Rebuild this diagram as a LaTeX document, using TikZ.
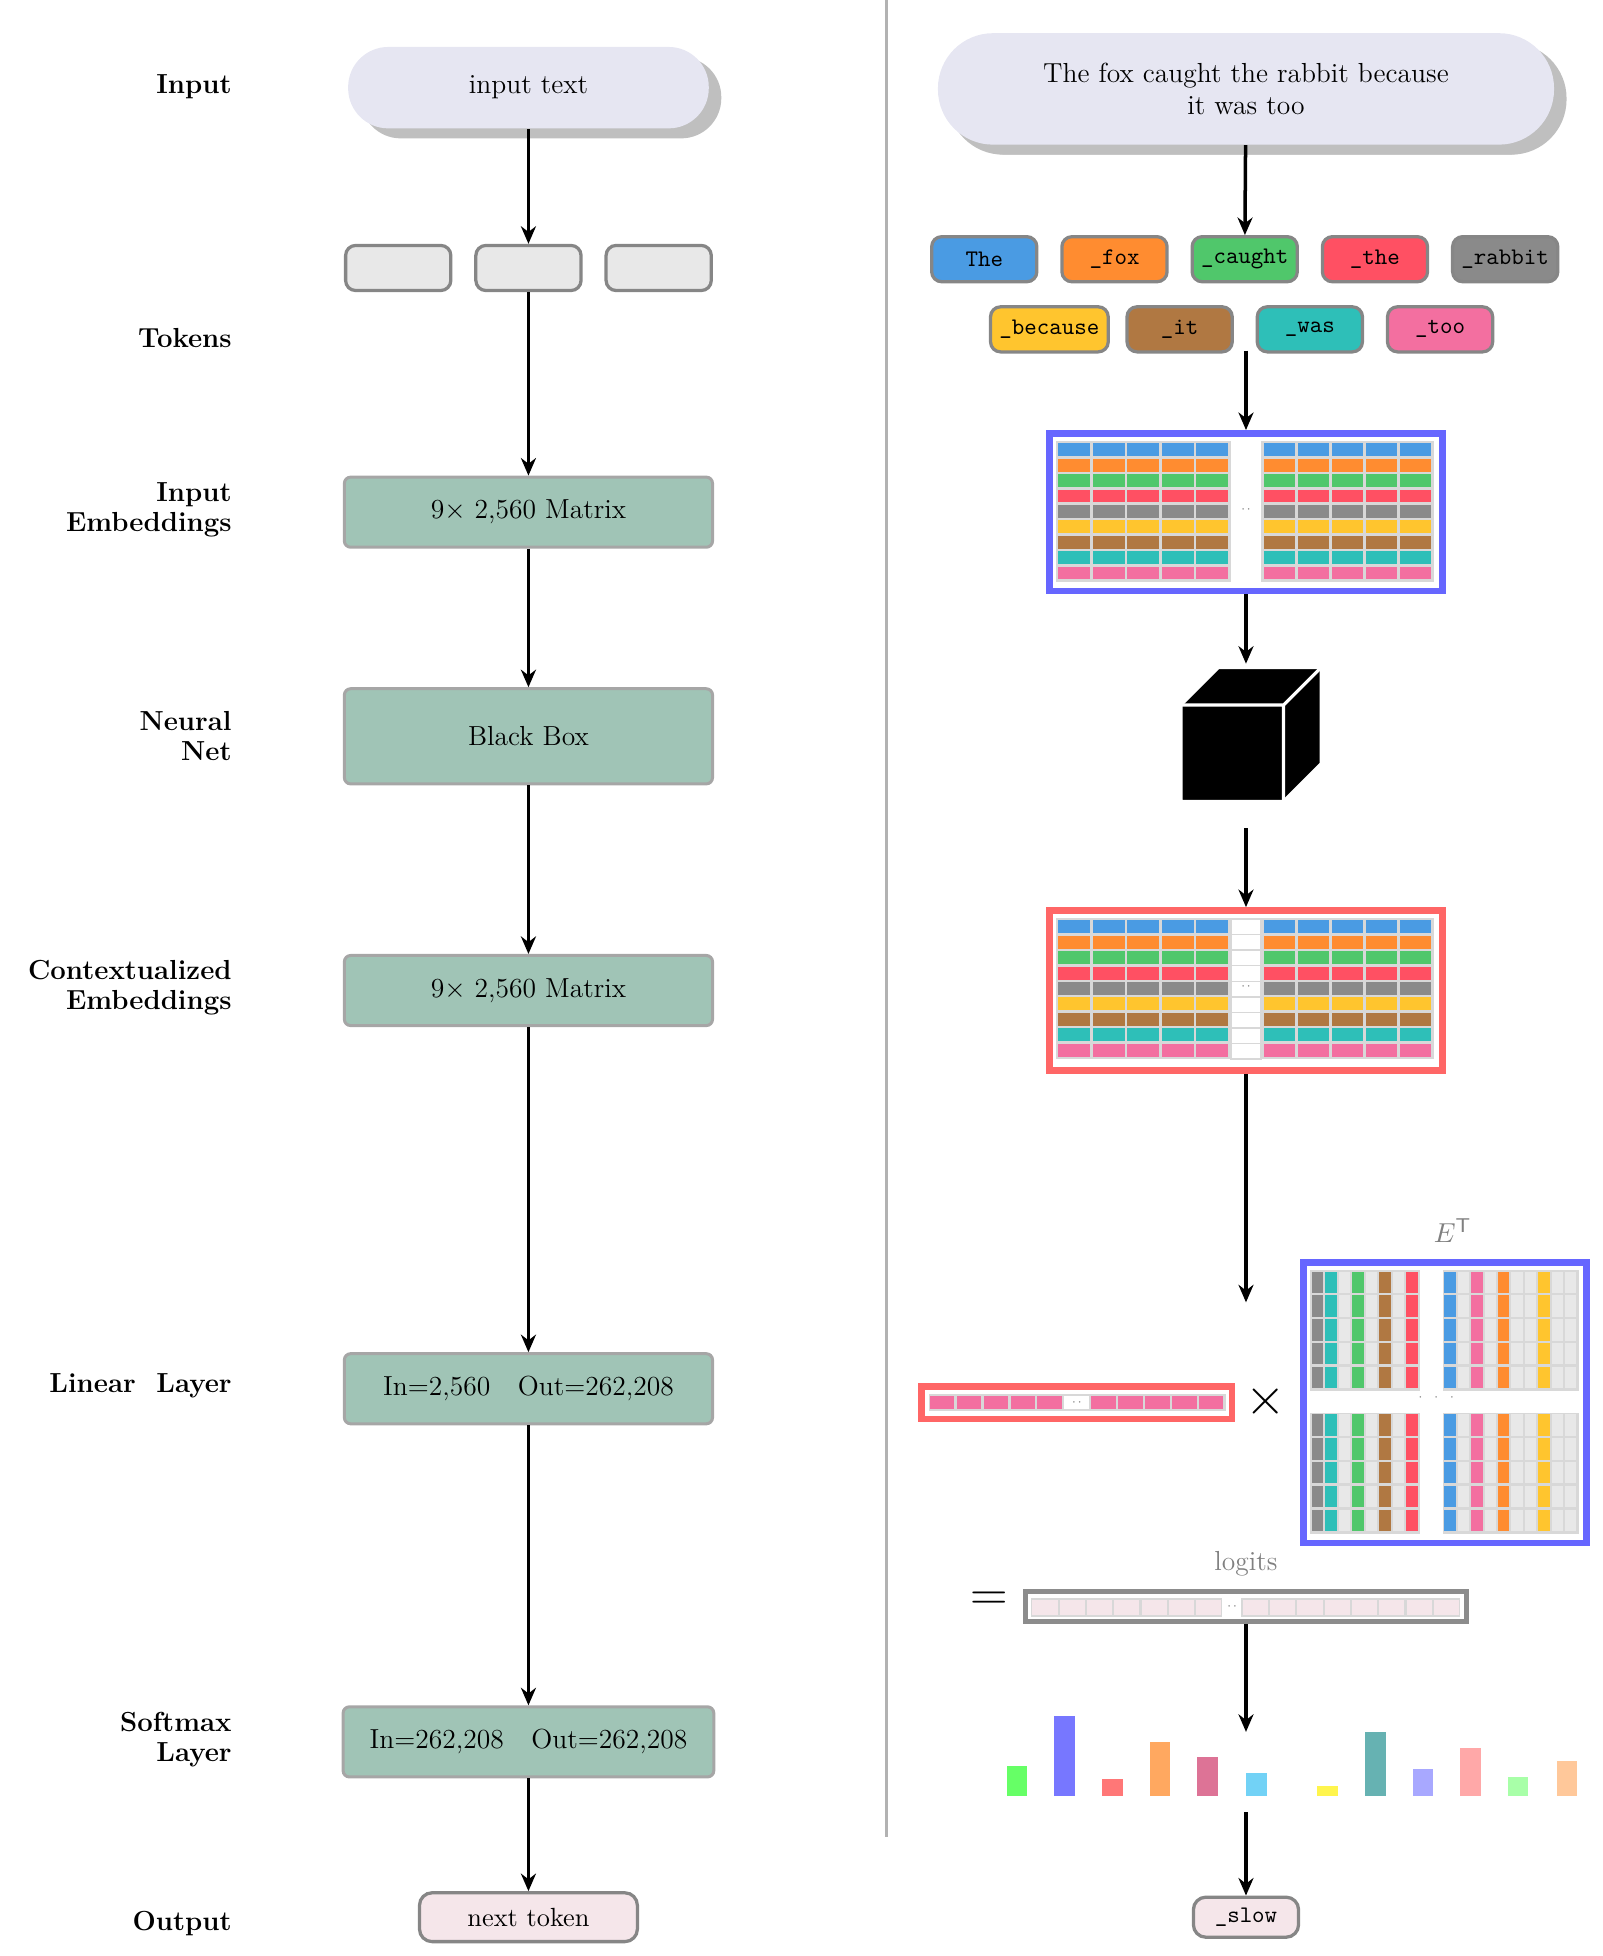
\documentclass[tikz,border=0pt]{standalone}
\usepackage{amsmath}
\usetikzlibrary{arrows.meta,shadows}
\definecolor{cBlue}{HTML}{4A9BE3}\definecolor{cOrange}{HTML}{FF8C30}
\definecolor{cGreen}{HTML}{50C76B}\definecolor{cRed}{HTML}{FF5063}
\definecolor{cGray}{HTML}{8A8A8A}\definecolor{cYellow}{HTML}{FFC52E}
\definecolor{cBrown}{HTML}{B07842}\definecolor{cTeal}{HTML}{2EBFB8}
\definecolor{cPink}{HTML}{F36FA0}\definecolor{cLight}{HTML}{E8E8E8}
\definecolor{gridbg}{HTML}{D8D8D8}\definecolor{boxgreen}{HTML}{A0C4B6}
\definecolor{pillfill}{HTML}{E6E6F2}\definecolor{outpink}{HTML}{F5E6EA}
\definecolor{frBlue}{HTML}{6666FF}\definecolor{frRed}{HTML}{FF6666}
\tikzset{
  x=0.5pt,y=-0.5pt,
  arr/.style={line width=1.4pt,-{Stealth[length=7pt,width=6pt]}},
  lbl/.style={font=\bfseries\fontsize{11}{12}\selectfont,align=right,anchor=east},
  gbox/.style={draw=gray!70,line width=1.2pt,fill=boxgreen,rounded corners=2.5pt,minimum width=147pt,minimum height=28pt,font=\fontsize{11}{13}\selectfont},
  tok/.style={draw=gray!95,line width=1.3pt,rounded corners=4pt,minimum width=42pt,minimum height=18pt,font=\ttfamily\fontsize{9.5}{11}\selectfont,inner sep=0pt},
  pill/.style={fill=pillfill,rounded corners=16pt,drop shadow={shadow xshift=5pt,shadow yshift=-4pt,fill=gray!50,opacity=1},font=\fontsize{11}{13}\selectfont,align=center},
  frame/.style={draw,line width=2.6pt,fill=white,inner sep=0pt},
}
\begin{document}
\begin{tikzpicture}
\useasboundingbox (0,0) rectangle (1280,1562);
\draw[gray!60,line width=1pt] (708,0) -- (708,1467);
% ---------- left column
\node[lbl] at (192,69) {Input};
\node[lbl] at (192,270) {Tokens};
\node[lbl] at (192,407) {Input\\Embeddings};
\node[lbl] at (192,588) {Neural\\Net};
\node[lbl] at (192,789) {Contextualized\\Embeddings};
\node[lbl] at (192,1107) {Linear\ \ Layer};
\node[lbl] at (192,1389) {Softmax\\Layer};
\node[lbl] at (192,1536) {Output};
\node[pill,minimum width=144pt,minimum height=32.5pt] (lin) at (422,70) {input text};
\node[tok,fill=cLight] (lt1) at (318,214) {};
\node[tok,fill=cLight] (lt2) at (422,214) {};
\node[tok,fill=cLight] (lt3) at (526,214) {};
\node[gbox] (lemb) at (422,409) {9$\times$ 2,560 Matrix};
\node[gbox,minimum height=38pt] (lnn) at (422,588) {Black Box};
\node[gbox] (lctx) at (422,791) {9$\times$ 2,560 Matrix};
\node[gbox] (llin) at (422,1109) {In=2,560\quad Out=262,208};
\node[gbox,minimum width=148pt] (lsm) at (422,1391) {In=262,208\quad Out=262,208};
\node[draw=gray!95,line width=1.3pt,fill=outpink,rounded corners=5pt,minimum width=87pt,minimum height=19.5pt,font=\fontsize{10.5}{12}\selectfont] (lout) at (422,1531) {next token};
\draw[arr] (lin) -- (lt2);
\draw[arr] (lt2) -- (lemb);
\draw[arr] (lemb) -- (lnn);
\draw[arr] (lnn) -- (lctx);
\draw[arr] (lctx) -- (llin);
\draw[arr] (llin) -- (lsm);
\draw[arr] (lsm) -- (lout);
% ---------- right column
\node[pill,minimum width=246pt,minimum height=44.5pt,rounded corners=22pt,drop shadow={shadow xshift=4pt,shadow yshift=-4pt,fill=gray!50,opacity=1}] (rin) at (995,71) {The fox caught the rabbit because\\it was too};
\node[tok,fill=cBlue] (t1) at (786,207) {The};
\node[tok,fill=cOrange] (t2) at (890,207) {\_fox};
\node[tok,fill=cGreen] (t3) at (994,207) {\_caught};
\node[tok,fill=cRed] (t4) at (1098,207) {\_the};
\node[tok,fill=cGray] (t5) at (1202,207) {\_rabbit};
\node[tok,fill=cYellow,minimum width=47pt] (t6) at (838,263) {\_because};
\node[tok,fill=cBrown] (t7) at (942,263) {\_it};
\node[tok,fill=cTeal] (t8) at (1046,263) {\_was};
\node[tok,fill=cPink] (t9) at (1150,263) {\_too};
\draw[arr] (rin) -- (t3);
\coordinate (tb) at (995,280);
% embedding matrix
\node[frame,draw=frBlue,minimum width=157pt,minimum height=63pt] (remb) at (995,409) {};
\node[frame,draw=frRed,minimum width=157pt,minimum height=64pt] (rctx) at (995,791) {};
\foreach \yy/\mid in {352/0,733/1}{
  \fill[gridbg] (843,\yy) rectangle (983,\yy+113);
  \fill[gridbg] (1007,\yy) rectangle (1145,\yy+113);
  \foreach \cc [count=\i from 0] in {cBlue,cOrange,cGreen,cRed,cGray,cYellow,cBrown,cTeal,cPink}{
    \foreach \j in {0,...,4}{
      \fill[\cc] (845+\j*27.6,\yy+2+\i*12.3) rectangle ++(25.6,10.3);
      \fill[\cc] (1009+\j*27.2,\yy+2+\i*12.3) rectangle ++(25.2,10.3);
    }
    \ifnum\mid=1 \draw[gridbg,fill=white,line width=0.6pt] (983,\yy+1+\i*12.4) rectangle ++(24,12.4);\fi
  }
  \node[font=\tiny,text=gray] at (995,\yy+55) {$\cdot\cdot$};
}
\draw[arr] (tb) -- (remb);
% cube
\filldraw[fill=black,draw=white,line width=1.3pt] (943,563) -- (973,533) -- (1055,533) -- (1055,610) -- (1025,640) -- (943,640) -- cycle;
\draw[white,line width=1.3pt] (943,563) -- (1025,563) -- (1055,533) (1025,563) -- (1025,640);
\node[inner sep=0pt,minimum width=1pt,minimum height=1pt] (cubeb) at (995,660) {};
\draw[arr] (remb) -- (995,530);
\draw[arr] (cubeb) -- (rctx);
\coordinate (mulin) at (995,1040);
\draw[arr] (rctx) -- (mulin);
% row vector
\node[frame,draw=frRed,minimum width=124pt,minimum height=13pt] (rvec) at (860,1120) {};
\fill[gridbg] (742,1113) rectangle (979,1127);
\foreach \j in {0,...,10}{
  \ifnum\j=5 \fill[white] (742.5+\j*21.5,1114.5) rectangle ++(19.5,11);
  \else \fill[cPink] (742.5+\j*21.5,1114.5) rectangle ++(19.5,11);\fi
}
\node[font=\tiny,text=gray] at (860,1120) {$\cdot\cdot$};
\node[font=\fontsize{20}{20}\selectfont] (times) at (1011,1119) {$\times$};
% E^T
\node[text=gray,font=\fontsize{11}{12}\selectfont] (elbl) at (1160,983) {$E^{\mathsf{T}}$};
\node[frame,draw=frBlue,minimum width=113pt,minimum height=112pt] (et) at (1154,1120) {};
\foreach \yy in {1014,1128}{
  \fill[gridbg] (1046,\yy) rectangle (1134,\yy+97);
  \fill[gridbg] (1152,\yy) rectangle (1261,\yy+97);
  \foreach \r in {0,...,4}{
    \foreach \cc [count=\i from 0] in {cGray,cTeal,cLight,cGreen,cLight,cBrown,cLight,cRed}{
      \fill[\cc] (1047.5+\i*10.8,\yy+1.5+\r*19) rectangle ++(9.2,17);}
    \foreach \cc [count=\i from 0] in {cBlue,cLight,cPink,cLight,cOrange,cLight,cLight,cYellow,cLight,cLight}{
      \fill[\cc] (1153.5+\i*10.7,\yy+1.5+\r*19) rectangle ++(9.1,17);}
  }
}
\node[font=\tiny,text=gray] at (1147,1116) {$\cdot\ \cdot\ \cdot$};
% logits
\node[text=gray,font=\fontsize{11}{12}\selectfont] (llbl) at (995,1249) {logits};
\node[font=\fontsize{20}{20}\selectfont] (eq) at (790,1279) {$=$};
\node[frame,draw=gray!90,line width=2pt,minimum width=176pt,minimum height=12pt] (rlog) at (995,1283) {};
\fill[gridbg] (823,1276) rectangle (976,1291);
\fill[gridbg] (991,1276) rectangle (1166,1291);
\foreach \j in {0,...,6}{\fill[outpink] (824.5+\j*21.8,1277.5) rectangle ++(20,12);}
\foreach \j in {0,...,7}{\fill[outpink] (992.5+\j*21.8,1277.5) rectangle ++(20,12);}
\node[font=\tiny,text=gray] at (984,1283) {$\cdot\cdot$};
\coordinate (barsin) at (995,1383);
\draw[arr] (rlog) -- (barsin);
% bars
\foreach \xx/\tp/\cc in {804/1410/66FF66,842/1370/7777FF,880/1421/FF7777,918/1391/FFA860,956/1403/DD7396,995/1416/72D2F6,1052/1426/FFF54D,1090/1383/66B2B2,1128/1413/A8A8FF,1166/1396/FFA8A8,1204/1419/A8FFA8,1243/1406/FFC89A}{
  \definecolor{barc}{HTML}{\cc}
  \fill[barc] (\xx,\tp) rectangle (\xx+16.5,1434);
}
\node[draw=gray!95,line width=1.3pt,fill=outpink,rounded corners=5pt,minimum width=42pt,minimum height=16pt,font=\ttfamily\fontsize{9.5}{11}\selectfont] (rout) at (995,1531) {\_slow};
\coordinate (barsout) at (995,1447);
\draw[arr] (barsout) -- (rout);
\end{tikzpicture}
\end{document}
